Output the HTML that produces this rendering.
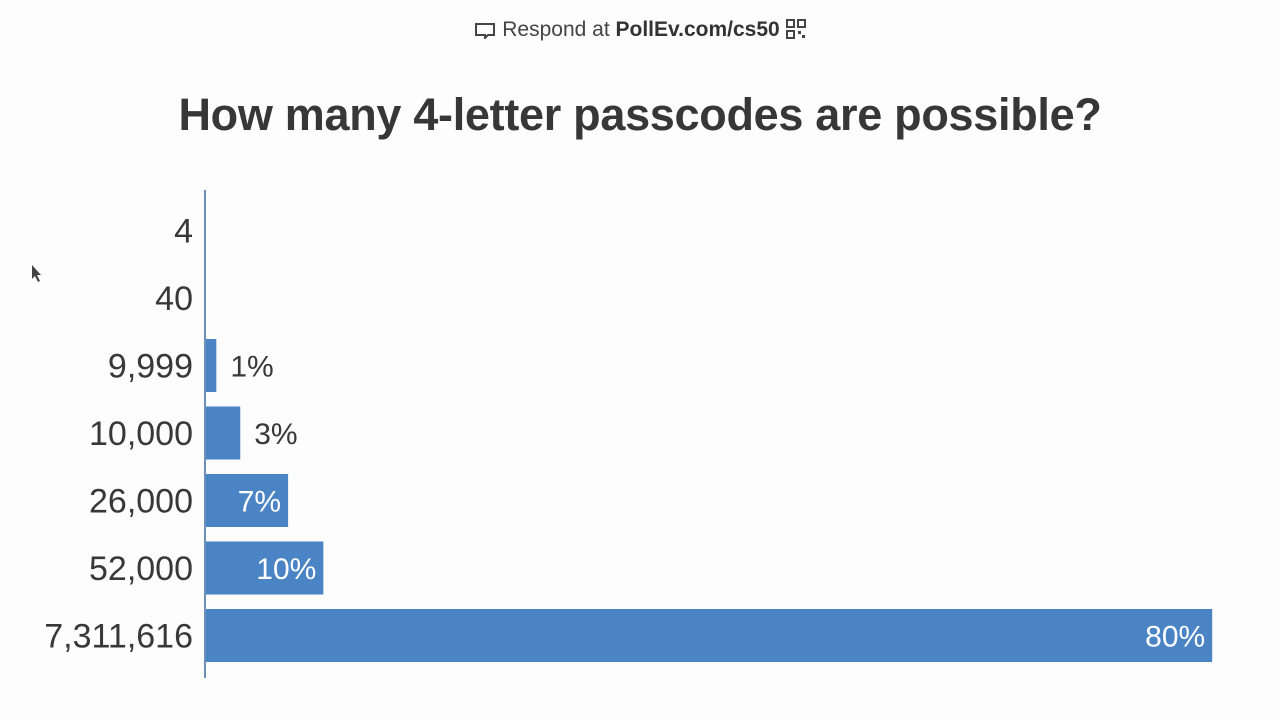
<!DOCTYPE html>
<html><head><meta charset="utf-8"><style>
html,body{margin:0;padding:0;background:#fcfdfc;}
body{width:1280px;height:720px;position:relative;overflow:hidden;font-family:"Liberation Sans","DejaVu Sans",sans-serif;}
#hdr{position:absolute;top:18px;left:0;width:1280px;text-align:center;font-size:21px;color:#444;}
#hdr b{color:#333;}
#title{position:absolute;top:89px;left:0;width:1280px;text-align:center;font-size:45px;font-weight:bold;color:#373737;letter-spacing:-0.3px;}
svg{position:absolute;left:0;top:0;}
</style></head><body>
<div id="hdr">
<svg style="position:static;vertical-align:-3px" width="22" height="18" viewBox="0 0 22 18"><path d="M2 3h18v11h-6l-3 3v-3H2z" fill="none" stroke="#444" stroke-width="2"/></svg>
Respond at <b>PollEv.com/cs50</b>
<svg style="position:static;vertical-align:-3px" width="20" height="20" viewBox="0 0 20 20"><rect x="1" y="1" width="7" height="7" fill="none" stroke="#444" stroke-width="2"/><rect x="12" y="1" width="7" height="7" fill="none" stroke="#444" stroke-width="2"/><rect x="1" y="12" width="7" height="7" fill="none" stroke="#444" stroke-width="2"/><rect x="12" y="12" width="3" height="3" fill="#444"/><rect x="16" y="16" width="3" height="3" fill="#444"/></svg>
</div>
<div id="title">How many 4-letter passcodes are possible?</div>
<svg id="chart" width="1280" height="720"></svg>
<script>
const categories=["4","40","9,999","10,000","26,000","52,000","7,311,616"];
const values=[0,0,0.9,2.8,6.6,9.4,80.0];
const valueLabels=["","","1%","3%","7%","10%","80%"];
const NS="http://www.w3.org/2000/svg";
const svg=document.getElementById('chart');
const x0=205,pxPerPct=12.59,rowTop=204,rowPitch=67.5,barH=53;
const xScale=v=>x0+v*pxPerPct;
const yScale=i=>rowTop+i*rowPitch;
function mk(t,a){const e=document.createElementNS(NS,t);for(const k in a)e.setAttribute(k,a[k]);svg.appendChild(e);return e;}
categories.forEach((c,i)=>{
  const y=yScale(i);
  const t=mk('text',{x:193,y:y+barH/2+12,'text-anchor':'end','font-size':34,fill:'#383838'});
  t.textContent=c;
  
  
  const v=values[i];
  if(v>0){
    const w=xScale(v)-x0;
    const r=mk('rect',{x:x0,y:y,width:w,height:barH,fill:'#4a84c4'});
    
    
    const inside=w>75;
    const l=mk('text',{x:inside?xScale(v)-7:xScale(v)+14,y:y+barH/2+11,'text-anchor':inside?'end':'start','font-size':30,fill:inside?'#fff':'#383838'});
    l.textContent=valueLabels[i];
    
    
  }
});
const ax=mk('line',{x1:x0,x2:x0,y1:190,y2:678,stroke:'#6a8fb8','stroke-width':2});


const cur=mk('path',{d:'M32 265 L32 279 L35 276 L38 282 L40 281 L37 275 L41 275 Z',fill:'#444'});


</script>
</body></html>
